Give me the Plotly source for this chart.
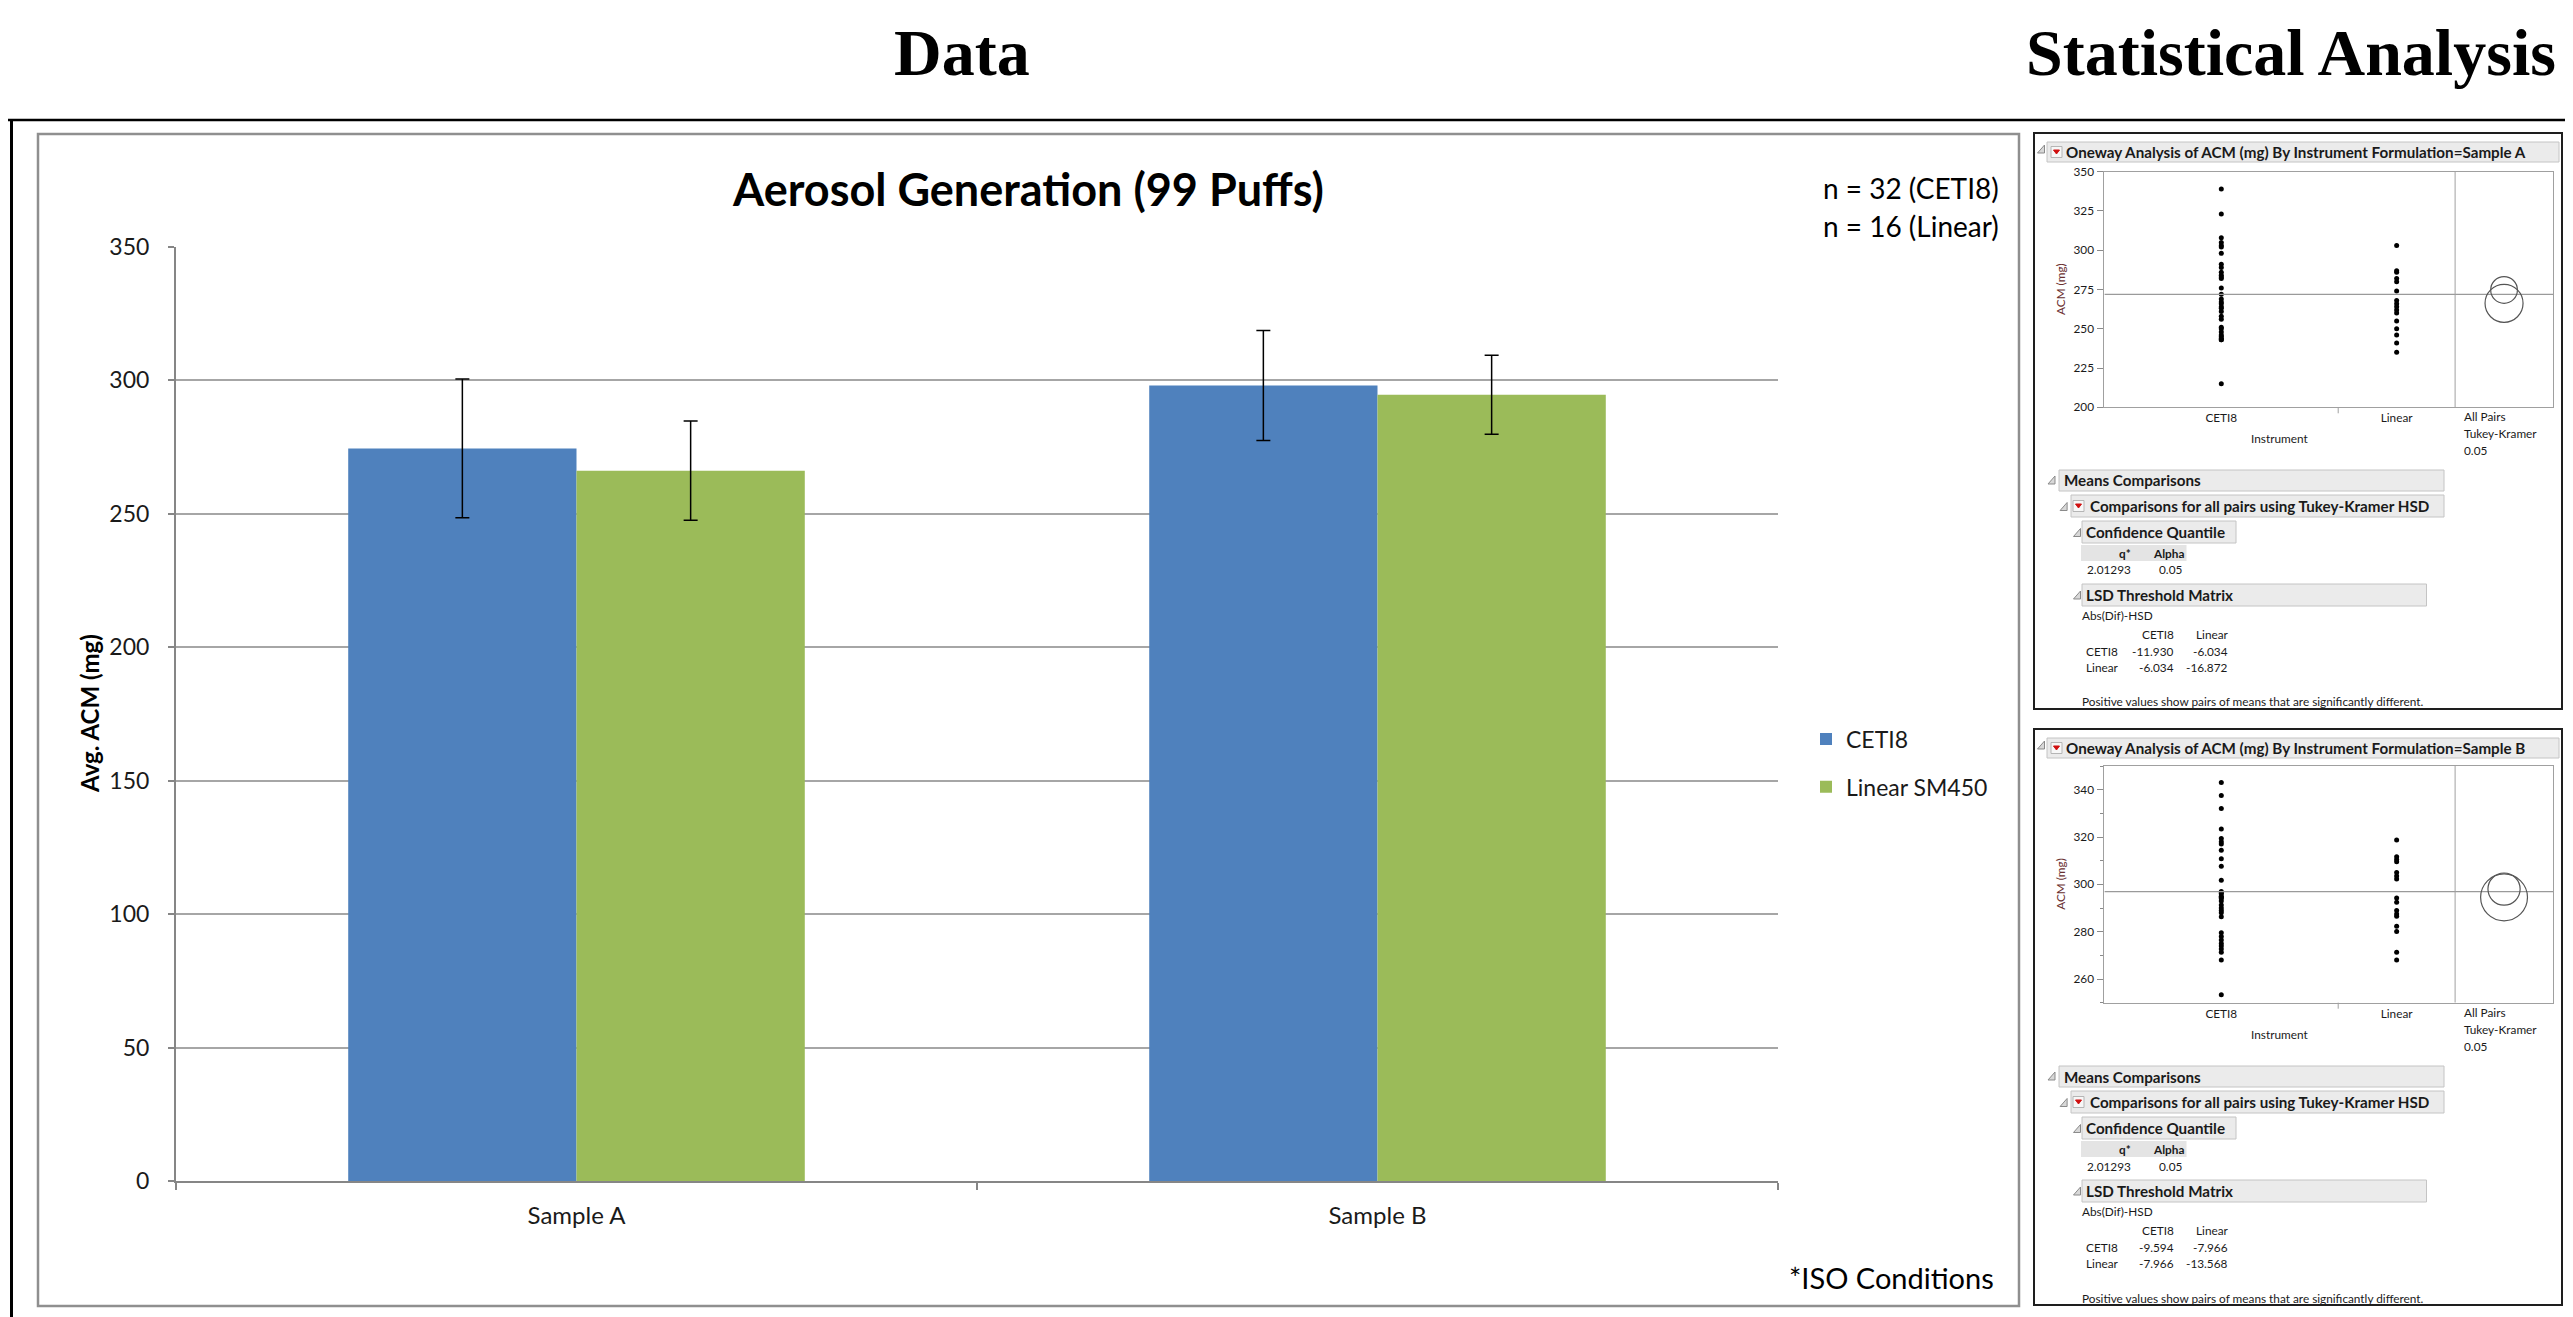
import plotly.graph_objects as go

W, H = 2573, 1317
OFF = 8  # page body margin: the figure is drawn 8 px right and down in the window

# ---------------- data: bar chart ----------------
categories = ["Sample A", "Sample B"]
series_names = ["CETI8", "Linear SM450"]
ceti8_mean = [274.5, 298.1]
ceti8_err = [26.0, 20.6]
linear_mean = [266.2, 294.6]
linear_err = [18.6, 14.8]
y_ticks = [0, 50, 100, 150, 200, 250, 300, 350]
chart_title = "Aerosol Generation (99 Puffs)"
n_notes = ["n = 32 (CETI8)", "n = 16 (Linear)"]

# ---------------- data: JMP oneway panels ----------------
groups = ["CETI8", "Linear"]
sampleA_ceti8 = [339, 323, 308, 305, 303, 302, 298, 291, 289, 286, 284, 283, 282,
                 276, 272, 269, 267, 266, 264, 263, 261, 258, 256, 251, 250, 248,
                 246, 245, 244, 243, 243, 215]
sampleA_linear = [303, 287, 286, 282, 280, 274, 268, 266, 264, 262, 260, 255, 250,
                  246, 241, 235]
sampleB_ceti8 = [343, 337.5, 332, 323.4, 319.4, 318, 317, 314.4, 310.8, 307.6, 301.7,
                 297, 296.5, 296, 295, 294.5, 294, 293, 291.3, 290, 289, 288, 286.3,
                 279.6, 278, 276.5, 275, 274, 272.7, 271.3, 268, 253.4]
sampleB_linear = [318.7, 311.7, 310.5, 309.5, 305, 303.5, 302.3, 294.2, 292.4, 288.9,
                  287.5, 286.5, 282.3, 280.1, 271.3, 268]
sampleA_grand_mean = 271.9
sampleB_grand_mean = 296.9
sampleA_circle_centers = [274.7, 266.2]
sampleA_circle_radii = [8.5, 12.1]
sampleB_circle_centers = [298.0, 294.5]
sampleB_circle_radii = [6.8, 9.9]
q_star = "2.01293"
alpha_val = "0.05"
sampleA_lsd = [["-11.930", "-6.034"], ["-6.034", "-16.872"]]
sampleB_lsd = [["-9.594", "-7.966"], ["-7.966", "-13.568"]]

# ---------------- helpers ----------------
def px(x):
    return (x - OFF) / W


def py(y):
    return 1 - (y - OFF) / H


FONT = "Lato"
TXT = "#1a1a1a"
HB = 15.2   # JMP bold header font size
HS = 11.8   # JMP small text size
shapes = []
annotations = []


def text(x, y, s, size, xanchor="left", yanchor="middle", bold=False, color=TXT,
         family=FONT, angle=0):
    annotations.append(dict(
        x=px(x), y=py(y), xref="paper", yref="paper", text=s, showarrow=False,
        xanchor=xanchor, yanchor=yanchor, textangle=angle, borderpad=0,
        font=dict(family=family, size=size, color=color,
                  weight="bold" if bold else "normal")))


def rect(x0, y0, x1, y1, line="#000", width=1, fill=None):
    shapes.append(dict(type="rect", xref="paper", yref="paper",
                       x0=px(x0), x1=px(x1), y0=py(y0), y1=py(y1),
                       line=dict(color=line, width=width),
                       fillcolor=fill if fill else "rgba(0,0,0,0)", layer="above"))


def line(x0, y0, x1, y1, color="#000", width=1):
    shapes.append(dict(type="line", xref="paper", yref="paper",
                       x0=px(x0), x1=px(x1), y0=py(y0), y1=py(y1),
                       line=dict(color=color, width=width), layer="above"))


def path(pts, line_color="#888", fill="#ddd", width=1):
    d = "M " + " L ".join(f"{px(a):.6f},{py(b):.6f}" for a, b in pts) + " Z"
    shapes.append(dict(type="path", xref="paper", yref="paper", path=d,
                       line=dict(color=line_color, width=width), fillcolor=fill,
                       layer="above"))


def disclosure(x, y):
    path([(x + 3.5, y - 4), (x + 3.5, y + 4), (x - 3.5, y + 4)], "#8a8a8a", "#d8d8d8", 1)


def red_icon(x0, y0):
    rect(x0, y0, x0 + 11, y0 + 11, "#b5b5b5", 1, "#f7f7f7")
    path([(x0 + 2.5, y0 + 3.5), (x0 + 8.5, y0 + 3.5), (x0 + 5.5, y0 + 7.5)], "#d01010", "#d01010", 1)


def header_box(x0, y0, x1, y1):
    rect(x0, y0, x1, y1, "#c4c4c4", 1, "#ebebeb")


fig = go.Figure()

# ---------------- main bar chart ----------------
fig.add_trace(go.Bar(
    x=categories, y=ceti8_mean, name=series_names[0], legendgroup="g1",
    marker=dict(color="#4F81BD", line=dict(width=0)),
    error_y=dict(type="data", array=ceti8_err, color="black", thickness=1.5, width=7),
    xaxis="x", yaxis="y"))
fig.add_trace(go.Bar(
    x=categories, y=linear_mean, name=series_names[1], legendgroup="g2",
    marker=dict(color="#9BBB59", line=dict(width=0)),
    error_y=dict(type="data", array=linear_err, color="black", thickness=1.5, width=7),
    xaxis="x", yaxis="y"))

# ---------------- JMP panels ----------------
ALLPAIRS_UNITS = 13.4
FRAME_X0, FRAME_X1 = 2104.4, 2553


def add_panel(dy, label, xa, ya, ceti, lin, gmean, centers, radii, lsd,
              yrange, dtick, minor, frame_y0, frame_y1):
    data = [ceti, lin]
    ns = [len(d) for d in data]
    starts = []
    s = 0
    for n in ns:
        starts.append(s)
        s += n
    total = s
    xmax = total + ALLPAIRS_UNITS
    mids = [st + n / 2 for st, n in zip(starts, ns)]
    for g, d, m in zip(groups, data, mids):
        fig.add_trace(go.Scatter(
            x=[m] * len(d), y=d, mode="markers", name=g, showlegend=False,
            marker=dict(color="black", size=5), xaxis=xa, yaxis=ya))

    xname = "xaxis" + xa[1:]
    yname = "yaxis" + ya[1:]
    yax = dict(domain=[py(frame_y1), py(frame_y0)], range=yrange, dtick=dtick,
               anchor=xa, showline=True, mirror=True, linecolor="#a0a0a0", linewidth=1,
               ticks="outside", ticklen=6, tickcolor="#8a8a8a", showgrid=False,
               zeroline=False, automargin=False,
               tickfont=dict(family=FONT, size=HS, color=TXT), ticklabelstandoff=1)
    if minor:
        yax["minor"] = dict(dtick=minor, ticks="outside", ticklen=3, tickcolor="#8a8a8a")
    fig.update_layout(**{
        xname: dict(domain=[px(FRAME_X0), px(FRAME_X1)], range=[0, xmax], anchor=ya,
                    showline=True, mirror=True, linecolor="#a0a0a0", linewidth=1,
                    showgrid=False, zeroline=False, ticks="", automargin=False,
                    tickvals=mids, ticktext=groups,
                    tickfont=dict(family=FONT, size=HS, color=TXT)),
        yname: yax})

    # grand mean line, divider, category boundary tick
    shapes.append(dict(type="line", xref=xa, yref=ya, x0=0, x1=xmax, y0=gmean, y1=gmean,
                       line=dict(color="#9a9a9a", width=1.2), layer="above"))
    shapes.append(dict(type="line", xref=xa, yref=ya, x0=total, x1=total,
                       y0=yrange[0], y1=yrange[1], line=dict(color="#a0a0a0", width=1),
                       layer="above"))
    shapes.append(dict(type="line", xref=xa, yref="paper", x0=starts[1], x1=starts[1],
                       y0=py(frame_y1), y1=py(frame_y1 + 6),
                       line=dict(color="#a0a0a0", width=1), layer="above"))
    # comparison circles
    xpu = (FRAME_X1 - FRAME_X0) / xmax
    ypu = (frame_y1 - frame_y0) / (yrange[1] - yrange[0])
    cx = total + ALLPAIRS_UNITS / 2
    for c, r in zip(centers, radii):
        hx = r * ypu / xpu
        shapes.append(dict(type="circle", xref=xa, yref=ya, x0=cx - hx, x1=cx + hx,
                           y0=c - r, y1=c + r, line=dict(color="#555555", width=1.2),
                           layer="above"))

    # panel frame and header
    rect(2034, 133 + dy, 2562, 709 + dy, "#1e1e1e", 2)
    disclosure(2041, 149 + dy)
    header_box(2047, 142 + dy, 2559, 162 + dy)
    red_icon(2051, 146.5 + dy)
    text(2065, 152 + dy, f"Oneway Analysis of ACM (mg) By Instrument Formulation={label}",
         HB, bold=True)

    # axis labels
    text(2060.5, (frame_y0 + frame_y1) / 2, "ACM (mg)", HS, "center", "middle",
         color="#6a3030", angle=-90)
    text((FRAME_X0 + 2455) / 2, 438 + dy, "Instrument", HS, "center")
    text(2463, 416.7 + dy, "All Pairs", HS)
    text(2463, 433.3 + dy, "Tukey-Kramer", HS)
    text(2463, 450 + dy, alpha_val, HS)

    # means comparisons report
    disclosure(2051.5, 480 + dy)
    header_box(2059, 470 + dy, 2444, 491 + dy)
    text(2063, 480.5 + dy, "Means Comparisons", HB, bold=True)

    disclosure(2063.6, 506.5 + dy)
    header_box(2071, 495 + dy, 2444, 517 + dy)
    red_icon(2073, 500.5 + dy)
    text(2089, 506 + dy, "Comparisons for all pairs using Tukey-Kramer HSD", HB, bold=True)

    disclosure(2077, 532.5 + dy)
    header_box(2082, 521 + dy, 2236, 543 + dy)
    text(2085, 532 + dy, "Confidence Quantile", HB, bold=True)

    rect(2081, 545 + dy, 2186.5, 561 + dy, "rgba(0,0,0,0)", 0, "#e4e4e4")
    text(2132, 553 + dy, "q*", HS, "right", bold=True)
    text(2185, 553 + dy, "Alpha", HS, "right", bold=True)
    text(2132, 570 + dy, q_star, HS, "right")
    text(2183, 570 + dy, alpha_val, HS, "right")

    disclosure(2077, 595 + dy)
    header_box(2082, 584 + dy, 2426.5, 606 + dy)
    text(2085, 595 + dy, "LSD Threshold Matrix", HB, bold=True)

    text(2081, 615 + dy, "Abs(Dif)-HSD", HS)
    text(2174.7, 634 + dy, groups[0], HS, "right")
    text(2230, 634 + dy, groups[1], HS, "right")
    for i, (g, row) in enumerate(zip(groups, lsd)):
        yy = 651 + 16.5 * i + dy
        text(2085.4, yy, g, HS)
        text(2174.7, yy, row[0], HS, "right")
        text(2229, yy, row[1], HS, "right")
    text(2081, 702 + dy, "Positive values show pairs of means that are significantly different.", HS)


add_panel(0, "Sample A", "x2", "y2", sampleA_ceti8, sampleA_linear, sampleA_grand_mean,
          sampleA_circle_centers, sampleA_circle_radii, sampleA_lsd,
          [200, 350], 25, None, 171.7, 407.3)
add_panel(596, "Sample B", "x3", "y3", sampleB_ceti8, sampleB_linear, sampleB_grand_mean,
          sampleB_circle_centers, sampleB_circle_radii, sampleB_lsd,
          [250, 350], 20, 10, 766.0, 1002.7)

# ---------------- page decorations ----------------
line(OFF, 120, W + OFF, 120, "#000", 2.5)  # top rule
line(11.5, 120, 11.5, H + OFF, "#000", 3)  # left rule
rect(38, 134, 2019, 1306, "#8f8f8f", 2.5)  # chart area border

text(962, 53, "Data", 66, "center", bold=True, family="Liberation Serif", color="#000")
text(2025, 53, "Statistical Analysis", 66, "left", bold=True, family="Liberation Serif",
     color="#000")

text(1028, 189, chart_title, 45, "center", bold=True, color="#000")
text(1822, 188, n_notes[0], 28, "left", color="#000")
text(1822, 226, n_notes[1], 28, "left", color="#000")
text(1995, 1277, "*ISO Conditions", 29, "right", color="#000")
text(90, 714, "Avg. ACM (mg)", 24, "center", bold=True, color="#000", angle=-90)

fig.update_layout(
    width=W, height=H, autosize=False,
    margin=dict(l=0, r=0, t=0, b=0, pad=0, autoexpand=False),
    paper_bgcolor="white", plot_bgcolor="white",
    bargap=0.43, bargroupgap=0, barmode="group",
    font=dict(family=FONT, color=TXT),
    xaxis=dict(domain=[px(176), px(1778)], type="category", anchor="y",
               tickson="boundaries", ticks="outside", ticklen=7, tickcolor="#868686",
               tickwidth=1.5, showline=True, linecolor="#868686", linewidth=2,
               showgrid=False, zeroline=False, ticklabelstandoff=12, automargin=False,
               tickfont=dict(family=FONT, size=24, color=TXT)),
    yaxis=dict(domain=[py(1181), py(247)], range=[0, 350], tickvals=y_ticks,
               anchor="x", showgrid=True, gridcolor="#a6a6a6", gridwidth=1.5,
               showline=True, linecolor="#868686", linewidth=2, zeroline=False,
               ticks="outside", ticklen=6, tickcolor="#868686", tickwidth=1.5,
               ticklabelstandoff=14, automargin=False,
               tickfont=dict(family=FONT, size=23, color=TXT)),
    legend=dict(x=px(1806), y=py(763), xanchor="left", yanchor="middle",
                traceorder="grouped", tracegroupgap=15, bgcolor="rgba(0,0,0,0)",
                font=dict(family=FONT, size=23, color=TXT)),
    shapes=shapes, annotations=annotations,
)

fig.write_html("out.html")
